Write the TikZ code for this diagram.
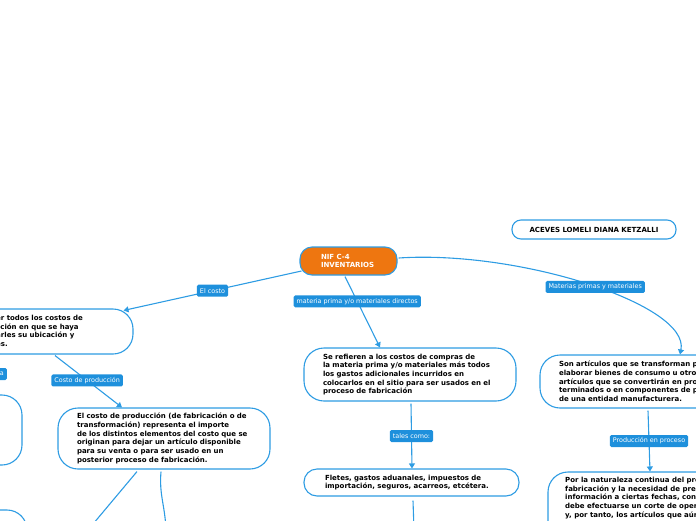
\documentclass[tikz,border=0pt]{standalone}
\usepackage{fontspec}
\setmainfont{DejaVu Sans}
\usetikzlibrary{arrows.meta,calc}
\definecolor{lineblue}{HTML}{2E9CE3}
\definecolor{labelblue}{HTML}{1E90DC}
\definecolor{niforange}{HTML}{EE7610}
\pgfdeclarelayer{bg}
\pgfsetlayers{bg,main}
\tikzset{
  box/.style={draw=lineblue, line width=1.1pt, rounded corners=20pt, fill=white,
    inner ysep=0pt, inner xsep=19pt, align=left,
    font=\fontsize{7}{8.7}\selectfont\bfseries},
  txt/.style={font=\fontsize{7}{8.7}\selectfont\bfseries, align=left, inner sep=0pt, anchor=north west},
  lbl/.style={fill=labelblue, text=white, font=\fontsize{6.4}{7}\selectfont, rounded corners=1.5pt,
    inner xsep=3pt, inner ysep=0pt, minimum height=12pt},
  conn/.style={draw=lineblue, line width=1.1pt, -{Triangle[width=6pt,length=5pt]}},
  plainline/.style={draw=lineblue, line width=1.1pt}
}
\begin{document}
\begin{tikzpicture}[x=1pt,y=-1pt]
\useasboundingbox (0,0) rectangle (696,520);
\clip (0,0) rectangle (696,520);

% main nodes
\node[box, fill=niforange, text=white, rounded corners=12pt, minimum width=97pt, minimum height=28pt,
  text width=55pt, inner xsep=21pt] (nif) at (348.5,261) {NIF C-4\\INVENTARIOS};
\node[box, rounded corners=9pt, minimum width=164pt, minimum height=19pt, align=center,
  inner xsep=4pt] (author) at (594,229.5) {ACEVES LOMELI DIANA KETZALLI};

\node[box, minimum width=193pt, minimum height=45pt] (lbox) at (36.5,331.5) {};
\node[txt] (ltext) at (-4,315) {er todos los costos de\\cción en que se haya\\arles su ubicación y\\es.};

\node[box, minimum width=212pt, minimum height=61pt, text width=174pt] (cbox) at (164,438.5)
 {El costo de producción (de fabricación o de\\transformación) representa el importe\\de los distintos elementos del costo que se\\originan para dejar un artículo disponible\\para su venta o para ser usado en un\\posterior proceso de fabricación.};

\node[box, minimum width=62pt, minimum height=70pt] (lmid) at (-9,430) {};
\node[box, minimum width=67pt, minimum height=50pt] (lbot) at (-6.5,535) {};
\node[lbl, anchor=east] (afrag) at (7,374) {a};

\node[box, minimum width=212pt, minimum height=53pt, text width=174pt] (mbox) at (410,374.5)
 {Se refieren a los costos de compras de\\la materia prima y/o materiales más todos\\los gastos adicionales incurridos en\\colocarlos en el sitio para ser usados en el\\proceso de fabricación};

\node[box, rounded corners=13pt, minimum width=215pt, minimum height=27pt, text width=173pt, inner xsep=21pt] (fbox) at (411.5,482.5)
 {Fletes, gastos aduanales, impuestos de\\importación, seguros, acarreos, etcétera.};

\node[box, minimum width=220pt, minimum height=53pt, text width=182pt] (rbox) at (650,381.5)
 {Son artículos que se transforman p\\elaborar bienes de consumo u otro\\artículos que se convertirán en pro\\terminados o en componentes de p\\de una entidad manufacturera.};

\node[box, minimum width=212pt, minimum height=88pt] (pbox) at (654,516) {};
\node[txt] (ptext) at (565,477) {Por la naturaleza continua del pro\\fabricación y la necesidad de prep\\información a ciertas fechas, cont\\debe efectuarse un corte de opera\\y, por tanto, los artículos que aún};

\coordinate (c3) at (88,530);
\coordinate (c4) at (166,530);
\coordinate (c7) at (414,530);

\begin{pgfonlayer}{bg}
\draw[conn] ($(nif.west)+(2,10)$) -- node[lbl, pos=0.5] (l1) {El costo} ($(lbox.north east)+(-10,2)$);
\draw[conn] ($(lbox.south)+(18.5,1)$) -- node[lbl, pos=0.48] (l2) {Costo de producción} ($(cbox.north)+(-42,0)$);
\draw[plainline] ($(cbox.south)+(-27,2)$) -- (c3);
\draw[plainline] ($(cbox.south)+(-3,2)$) .. controls (159,495) and (165,505) .. (c4);
\draw[conn] ($(nif.south)+(-3.5,1)$) -- node[lbl, pos=0.35] (l3) {materia prima y/o materiales directos} ($(mbox.north)+(-30,0)$);
\draw[conn] ($(mbox.south)+(1,2)$) -- node[lbl, pos=0.5] (l4) {tales como:} ($(fbox.north)+(0.5,0)$);
\draw[plainline] ($(fbox.south)+(1.5,4)$) -- (c7);
\draw[conn] ($(nif.east)+(1,-3)$) .. controls (520,250) and (690,305) .. node[lbl, pos=0.52] (l5) {Materias primas y materiales} ($(rbox.north)+(30,0)$);
\draw[conn] ($(rbox.south)+(-2,2)$) -- node[lbl, pos=0.5] (l6) {Producción en proceso} ($(pbox.north)+(-4,0)$);
\end{pgfonlayer}
\end{tikzpicture}
\end{document}
